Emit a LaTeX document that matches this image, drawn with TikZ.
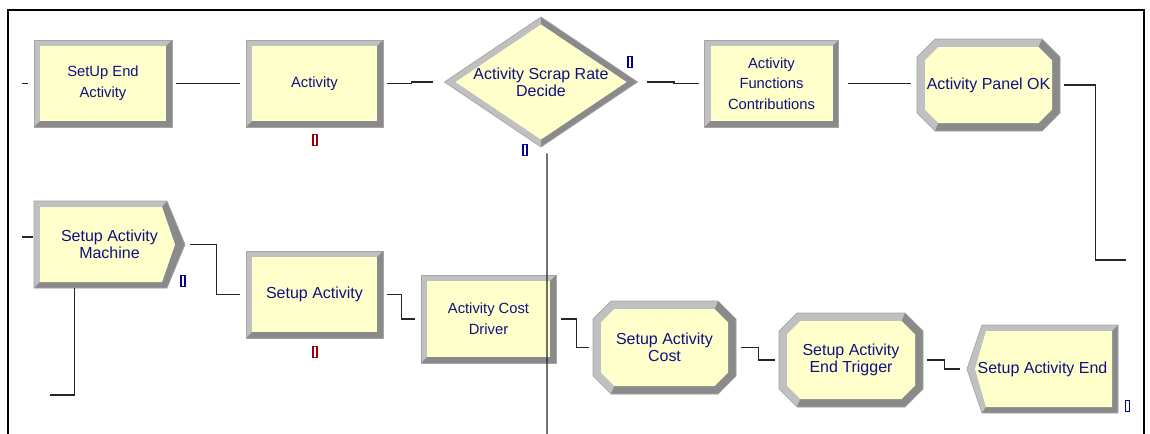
\documentclass[tikz,border=0pt]{standalone}
\usepackage{fontspec}
\setmainfont{Liberation Sans}
\usepackage{xcolor}
\usetikzlibrary{calc}

\definecolor{modfill}{RGB}{255,255,204}
\definecolor{bevlight}{RGB}{192,192,192}
\definecolor{beveldark}{RGB}{138,138,138}
\definecolor{bevedge}{RGB}{165,165,165}
\definecolor{modink}{RGB}{16,16,128}
\definecolor{qred}{RGB}{150,0,0}
\definecolor{qblue}{RGB}{0,0,150}

\tikzset{
  conn/.style={draw=black!85, line width=0.8pt},
  proctext/.style={text=modink, align=center, inner sep=0pt, font=\fontsize{8.4}{11.8}\selectfont},
  modtext/.style={text=modink, align=center, inner sep=0pt, font=\fontsize{9.1}{9.7}\selectfont},
  qmark/.style={draw=#1, fill=white, line width=0.6pt, inner sep=0pt, minimum width=0.08cm, minimum height=0.22cm},
}

% rectangle module: name, x, y, half width, half height, text style, text
\newcommand{\arenabox}[7]{%
  \begin{scope}[shift={(#2,#3)}]
    \fill[bevlight] (-#4,-#5) rectangle (#4,#5);
    \fill[beveldark] (#4,-#5) -- (#4,#5) -- (-#4,#5) -- (-#4+6,#5-6) -- (#4-6,#5-6) -- (#4-6,-#5+6) -- cycle;
    \fill[modfill] (-#4+6,-#5+6) rectangle (#4-6,#5-6);
    \draw[bevedge, line width=0.4pt] (-#4,-#5) rectangle (#4,#5);
  \end{scope}
  \node[#6, minimum width=2*#4*0.02cm, minimum height=2*#5*0.02cm] (#1) at (#2,#3) {#7};
}

% octagon module: name, x, y, half width, half height, corner, text
\newcommand{\arenaocta}[7]{%
  \pgfmathsetmacro{\octw}{#4-8}\pgfmathsetmacro{\octh}{#5-8}\pgfmathsetmacro{\octc}{#6-4.7}
  \begin{scope}[shift={(#2,#3)}]
    \fill[bevlight] (-#4+#6,-#5) -- (#4-#6,-#5) -- (#4,-#5+#6) -- (#4,#5-#6) -- (#4-#6,#5) -- (-#4+#6,#5) -- (-#4,#5-#6) -- (-#4,-#5+#6) -- cycle;
    \fill[beveldark] (#4-#6,-#5) -- (#4,-#5+#6) -- (#4,#5-#6) -- (#4-#6,#5) -- (-#4+#6,#5) -- (-\octw+\octc,\octh) -- (\octw-\octc,\octh) -- (\octw,\octh-\octc) -- (\octw,-\octh+\octc) -- (\octw-\octc,-\octh) -- cycle;
    \fill[modfill] (-\octw+\octc,-\octh) -- (\octw-\octc,-\octh) -- (\octw,-\octh+\octc) -- (\octw,\octh-\octc) -- (\octw-\octc,\octh) -- (-\octw+\octc,\octh) -- (-\octw,\octh-\octc) -- (-\octw,-\octh+\octc) -- cycle;
    \draw[bevedge, line width=0.4pt] (-#4+#6,-#5) -- (#4-#6,-#5) -- (#4,-#5+#6) -- (#4,#5-#6) -- (#4-#6,#5) -- (-#4+#6,#5) -- (-#4,#5-#6) -- (-#4,-#5+#6) -- cycle;
  \end{scope}
  \node[modtext, minimum width=2*#4*0.02cm, minimum height=2*#5*0.02cm] (#1) at (#2,#3) {#7};
}

% pointed right: name, x, y, half width, half height, point depth, text
\newcommand{\arenaright}[7]{%
  \begin{scope}[shift={(#2,#3)}]
    \fill[bevlight] (-#4,-#5) -- (#4-#6,-#5) -- (#4,0) -- (#4-#6,#5) -- (-#4,#5) -- cycle;
    \fill[beveldark] (#4-#6,-#5) -- (#4,0) -- (#4-#6,#5) -- (-#4,#5) -- (-#4+6,#5-6) -- (#4-#6-5,#5-6) -- (#4-10,0) -- (#4-#6-5,-#5+6) -- cycle;
    \fill[modfill] (-#4+6,-#5+6) -- (#4-#6-5,-#5+6) -- (#4-10,0) -- (#4-#6-5,#5-6) -- (-#4+6,#5-6) -- cycle;
    \draw[bevedge, line width=0.4pt] (-#4,-#5) -- (#4-#6,-#5) -- (#4,0) -- (#4-#6,#5) -- (-#4,#5) -- cycle;
  \end{scope}
  \node[modtext, minimum width=2*#4*0.02cm, minimum height=2*#5*0.02cm] (#1) at (#2,#3) {#7};
}

% pointed left: name, x, y, half width, half height, point depth, text
\newcommand{\arenaleft}[7]{%
  \begin{scope}[shift={(#2,#3)}]
    \fill[bevlight] (-#4+#6,-#5) -- (#4,-#5) -- (#4,#5) -- (-#4+#6,#5) -- (-#4,0) -- cycle;
    \fill[beveldark] (#4,-#5) -- (#4,#5) -- (-#4+#6,#5) -- (-#4+#6+4,#5-6) -- (#4-6,#5-6) -- (#4-6,-#5+6) -- cycle;
    \fill[modfill] (-#4+#6+4,-#5+6) -- (#4-6,-#5+6) -- (#4-6,#5-6) -- (-#4+#6+4,#5-6) -- (-#4+8,0) -- cycle;
    \draw[bevedge, line width=0.4pt] (-#4+#6,-#5) -- (#4,-#5) -- (#4,#5) -- (-#4+#6,#5) -- (-#4,0) -- cycle;
  \end{scope}
  \node[modtext, minimum width=2*#4*0.02cm, minimum height=2*#5*0.02cm] (#1) at (#2,#3) {#7};
}

\begin{document}
\begin{tikzpicture}[x=0.02cm, y=-0.02cm]
\useasboundingbox (0,0) rectangle (1150,433);
\draw[line width=1.3pt] (8,445) -- (8,10) -- (1144,10) -- (1144,445); %frame

%%%% top row
\arenabox{sea}{103}{83.5}{69}{43.5}{proctext}{SetUp End\\Activity}
\arenabox{act}{314.5}{83.5}{68.5}{43.5}{proctext}{Activity}
\begin{scope}[shift={(541,82)}] %decide
  \fill[bevlight] (0,-65) -- (96.5,0) -- (0,65) -- (-96.5,0) -- cycle;
  \fill[beveldark] (0,-65) -- (96.5,0) -- (0,65) -- (0,57.5) -- (85.5,0) -- (0,-57.5) -- cycle;
  \fill[modfill] (0,-57.5) -- (85.5,0) -- (0,57.5) -- (-85.5,0) -- cycle;
  \draw[bevedge, line width=0.4pt] (0,-65) -- (96.5,0) -- (0,65) -- (-96.5,0) -- cycle;
\end{scope}
\node[modtext, minimum width=193*0.02cm, minimum height=130*0.02cm] (dec) at (541,82) {Activity Scrap Rate\\Decide};
\arenabox{func}{771.5}{83.5}{67}{43.5}{proctext}{Activity\\Functions\\Contributions}
\arenaocta{ok}{988.5}{85}{71.5}{46}{18}{Activity Panel OK}

%%%% bottom row
\arenaright{sam}{109.5}{244.5}{75.5}{43.5}{18}{Setup Activity\\Machine}
\arenabox{sa}{314.5}{294.5}{68.5}{43.5}{modtext}{Setup Activity}
\arenabox{acd}{488.5}{319}{67.5}{44}{proctext}{Activity Cost\\Driver}
\arenaocta{sac}{664.5}{347.5}{71.5}{46.5}{18}{Setup Activity\\Cost}
\arenaocta{aet}{851}{360}{72}{47}{18}{Setup Activity\\End Trigger}
\arenaleft{sae}{1042.5}{369}{75.5}{44}{15}{Setup Activity End}

% queue markers
\node[qmark=qred] (qact) at (315,140) {};
\node[qmark=qred] (qsa) at (315,352) {};
\node[qmark=qblue] (qdec1) at (630,62) {};
\node[qmark=qblue] (qdec2) at (525,150) {};
\node[qmark=qblue] (qsam) at (183,281) {};
\node[qmark=qblue] (qsae) at (1127.5,406) {};

% free ends
\coordinate (in1) at (22,83.5);
\coordinate (in2) at (22,237);
\coordinate (out1) at (1126,260);
\coordinate (out2) at (50,395);
\coordinate (out3) at (547,445);

% connectors
\draw[conn, shorten >=0.12cm] (in1) -- (sea.west);
\draw[conn, shorten <=0.08cm, shorten >=0.12cm] (sea.east) -- (act.west);
\draw[conn, shorten <=0.08cm, shorten >=0.22cm] (act.east) -- ++(28,0) |- (dec.west);
\draw[conn, shorten <=0.18cm, shorten >=0.1cm] (dec.east) -- ++(36,0) |- (func.west);
\draw[conn, shorten <=0.18cm, shorten >=0.12cm] (func.east) -- (func.east -| ok.west);
\draw[conn, shorten <=0.08cm] (ok.east) -- ++(35,0) |- (out1);
\draw[conn, shorten >=0.02cm] (in2) -- (in2 -| sam.west);
\draw[conn] ([xshift=0.82cm]sam.south west) |- (out2);
\draw[conn, shorten <=0.1cm, shorten >=0.12cm] (sam.east) -- ++(31,0) |- (sa.west);
\draw[conn, shorten <=0.08cm, shorten >=0.12cm] (sa.east) -- ++(18,0) |- (acd.west);
\draw[conn, shorten <=0.1cm, shorten >=0.08cm] (acd.east) -- ++(20,0) |- (sac.west);
\draw[conn, shorten <=0.1cm, shorten >=0.08cm] (sac.east) -- ++(22,0) |- (aet.west);
\draw[conn, shorten <=0.08cm, shorten >=0.14cm] (aet.east) -- ++(21,0) |- (sae.west);
\draw[conn, shorten <=0.12cm] ([xshift=0.12cm]dec.south) -- (out3);
\end{tikzpicture}
\end{document}
